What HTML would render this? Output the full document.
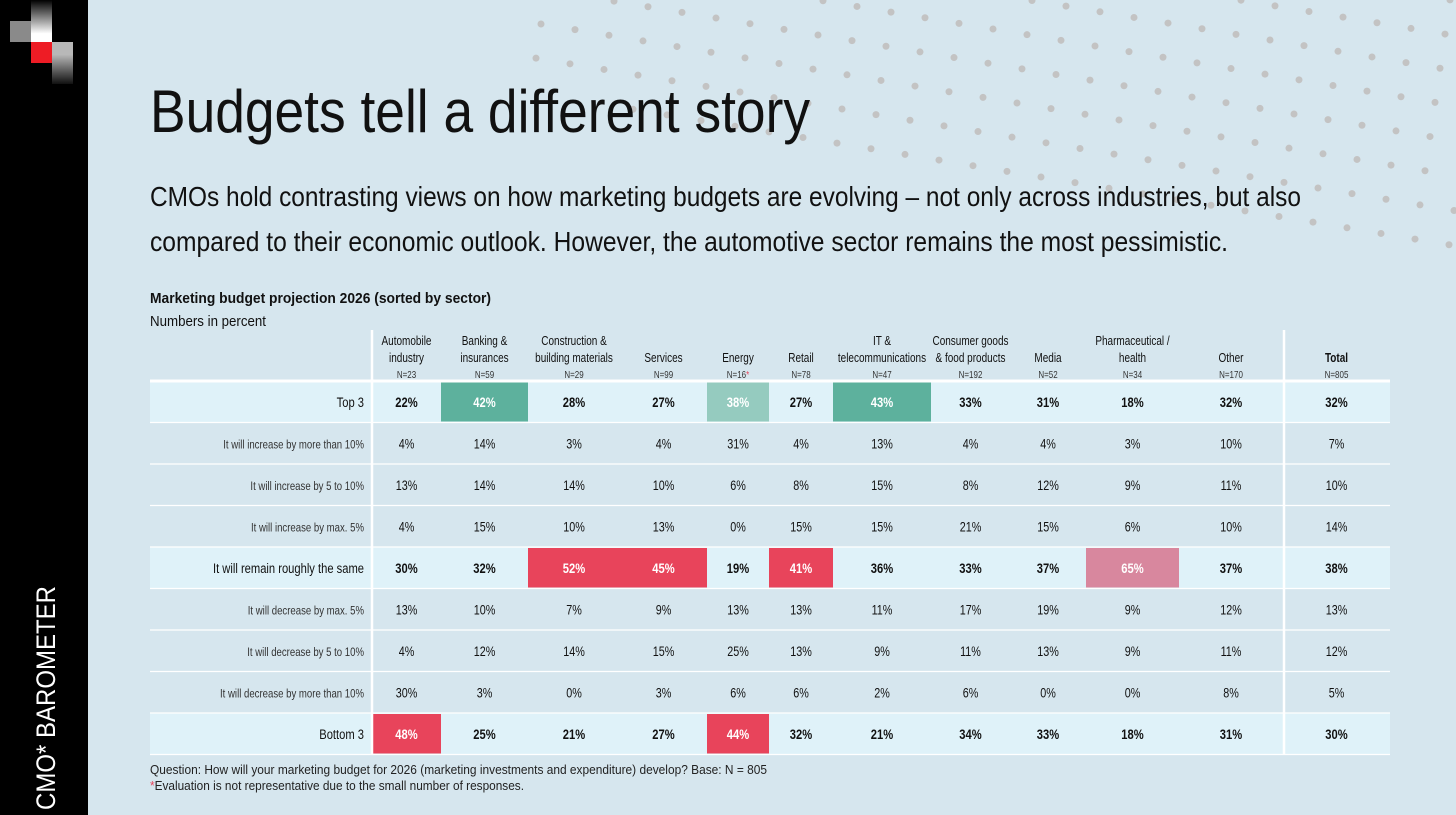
<!DOCTYPE html>
<html><head><meta charset="utf-8"><style>
html,body{margin:0;padding:0;background:#d6e6ee;}
svg{display:block;font-family:"Liberation Sans",sans-serif;}
</style></head><body>
<svg id="s" width="1456" height="815" viewBox="0 0 1456 815" xmlns="http://www.w3.org/2000/svg">
<defs>
<linearGradient id="gw" x1="0" y1="0" x2="0" y2="1"><stop offset="0" stop-color="#000"/><stop offset="0.8" stop-color="#fff"/></linearGradient>
<linearGradient id="gg" x1="0" y1="0" x2="0" y2="1"><stop offset="0.3" stop-color="#b8b8b8"/><stop offset="1" stop-color="#111"/></linearGradient>
</defs>
<rect width="1456" height="815" fill="#d6e6ee"/>
<g id="dots"></g>
<rect x="0" y="0" width="88" height="815" fill="#000"/>
<g>
<rect x="10" y="21" width="21" height="21" fill="#8a8a8a"/>
<rect x="31" y="0" width="21" height="42" fill="url(#gw)"/>
<rect x="31" y="42" width="21" height="21" fill="#ee1c25"/>
<rect x="52" y="42" width="21" height="42" fill="url(#gg)"/>
</g>
<text transform="translate(55,810) rotate(-90)" font-size="27" fill="#fff" textLength="224" lengthAdjust="spacingAndGlyphs">CMO* BAROMETER</text>
<text x="150" y="132" font-size="60" fill="#111" textLength="660" lengthAdjust="spacingAndGlyphs">Budgets tell a different story</text>
<text x="150" y="206" font-size="28" fill="#111" textLength="1151" lengthAdjust="spacingAndGlyphs">CMOs hold contrasting views on how marketing budgets are evolving – not only across industries, but also</text>
<text x="150" y="251" font-size="28" fill="#111" textLength="1078" lengthAdjust="spacingAndGlyphs">compared to their economic outlook. However, the automotive sector remains the most pessimistic.</text>
<text x="150" y="303" font-size="15" font-weight="bold" fill="#111" textLength="341" lengthAdjust="spacingAndGlyphs">Marketing budget projection 2026 (sorted by sector)</text>
<text x="150" y="326" font-size="15" fill="#111" textLength="116" lengthAdjust="spacingAndGlyphs">Numbers in percent</text>
<g id="tbl"></g>
<text x="150" y="774" font-size="13" fill="#222" textLength="617" lengthAdjust="spacingAndGlyphs">Question: How will your marketing budget for 2026 (marketing investments and expenditure) develop? Base: N = 805</text>
<text x="150" y="790" font-size="13" fill="#222" textLength="374" lengthAdjust="spacingAndGlyphs"><tspan fill="#e8435a">*</tspan>Evaluation is not representative due to the small number of responses.</text>
</svg>
<script>
const sectors=[["Automobile","industry"],["Banking &","insurances"],["Construction &","building materials"],["","Services"],["","Energy"],["","Retail"],["IT &","telecommunications"],["Consumer goods","& food products"],["","Media"],["Pharmaceutical /","health"],["","Other"],["","Total"]];
const sampleN=["N=23","N=59","N=29","N=99","N=16","N=78","N=47","N=192","N=52","N=34","N=170","N=805"];
const rowLabels=["Top 3","It will increase by more than 10%","It will increase by 5 to 10%","It will increase by max. 5%","It will remain roughly the same","It will decrease by max. 5%","It will decrease by 5 to 10%","It will decrease by more than 10%","Bottom 3"];
const top3=[22,42,28,27,38,27,43,33,31,18,32,32];
const incOver10=[4,14,3,4,31,4,13,4,4,3,10,7];
const inc5to10=[13,14,14,10,6,8,15,8,12,9,11,10];
const incMax5=[4,15,10,13,0,15,15,21,15,6,10,14];
const same=[30,32,52,45,19,41,36,33,37,65,37,38];
const decMax5=[13,10,7,9,13,13,11,17,19,9,12,13];
const dec5to10=[4,12,14,15,25,13,9,11,13,9,11,12];
const decOver10=[30,3,0,3,6,6,2,6,0,0,8,5];
const bottom3=[48,25,21,27,44,32,21,34,33,18,31,30];
const series=[top3,incOver10,inc5to10,incMax5,same,decMax5,dec5to10,decOver10,bottom3];
const highlights=[[0,1,"g"],[0,4,"lg"],[0,6,"g"],[4,2,"r"],[4,3,"r"],[4,5,"r"],[4,9,"p"],[8,0,"r"],[8,4,"r"]];
const hlColor={g:"#5db19d",lg:"#95cbbf",r:"#e8445b",p:"#d8879e"};
const boldRows=[0,4,8];

const NS="http://www.w3.org/2000/svg";
const colEdges=[372,441,528,620,707,769,833,931,1010,1086,1179,1283,1390];
const rowTop=381,rowH=41.5;
const colX=i=>(colEdges[i]+colEdges[i+1])/2;
const rowY=r=>rowTop+r*rowH;
const tbl=document.getElementById('tbl');
function mk(tag,attrs,parent){const e=document.createElementNS(NS,tag);for(const k in attrs)e.setAttribute(k,attrs[k]);(parent||tbl).appendChild(e);return e;}
function txt(x,y,s,size,anchor,weight,fill,sx){
  const g=mk('g',{transform:`translate(${x},${y}) scale(${sx||0.8},1)`});
  const t=mk('text',{x:0,y:0,'font-size':size,'text-anchor':anchor,'font-weight':weight||'normal',fill:fill||'#111'},g);
  t.textContent=s;return t;
}
boldRows.forEach(r=>{
  const b=mk('rect',{x:150,y:rowY(r),width:1240,height:rowH,fill:'#dff2f9'});
  
  
});
highlights.forEach(h=>{
  const c=mk('rect',{x:colEdges[h[1]],y:rowY(h[0])+1,width:colEdges[h[1]+1]-colEdges[h[1]],height:rowH-2,fill:hlColor[h[2]]});
  
  
});
for(let r=0;r<=9;r++){
  const l=mk('line',{x1:150,x2:1390,y1:rowY(r),y2:rowY(r),stroke:'#fff','stroke-width':r==0?3:1.2});
  
  
}
[372,1284].forEach(x=>{
  const l=mk('line',{x1:x,x2:x,y1:330,y2:755,stroke:'#fff','stroke-width':2.5});
  
  
});
sectors.forEach((s,i)=>{
  const x=colX(i),bold=i==11?'bold':'normal';
  if(s[0]){const t=txt(x,345,s[0],12.5,'middle',bold);}
  const t2=txt(x,362,s[1],12.5,'middle',bold);
  
  
  const n=txt(x,378,sampleN[i],10,'middle','normal','#333');
  
  
  if(i==4){n.textContent='N=16';const a=mk('tspan',{fill:'#e8435a'},n);a.textContent='*';}
});
rowLabels.forEach((lab,r)=>{
  const bold=boldRows.includes(r);
  const y=rowY(r)+rowH/2+5;
  const t=txt(364,y,lab,bold?14:12,'end','normal',bold?'#111':'#333');
  
  
  series[r].forEach((v,c)=>{
    const hl=highlights.find(h=>h[0]==r&&h[1]==c);
    const v2=txt(colX(c),y,v+'%',bold?14:13.5,'middle',bold?'bold':'normal',hl?'#fff':'#111');
    
    
  });
});
// decorative dots: diagonal lines
const dots=document.getElementById('dots');
const lineStart={2:633,1:536,0:541};
for(let k=-6;k<=2;k++){
  const start=lineStart[k]!==undefined?lineStart[k]:520;
  for(let j=0;j<30;j++){
    const x=541-5*k+34*j;
    if(x<start||x>1456)continue;
    const y=24+35*k+(x-541)*0.166;
    if(y<-2||y>250)continue;
    const d=mk('circle',{cx:x,cy:y,r:3.5,fill:'#c3c3c3'},dots);
    
    
  }
}
</script>
</body></html>
